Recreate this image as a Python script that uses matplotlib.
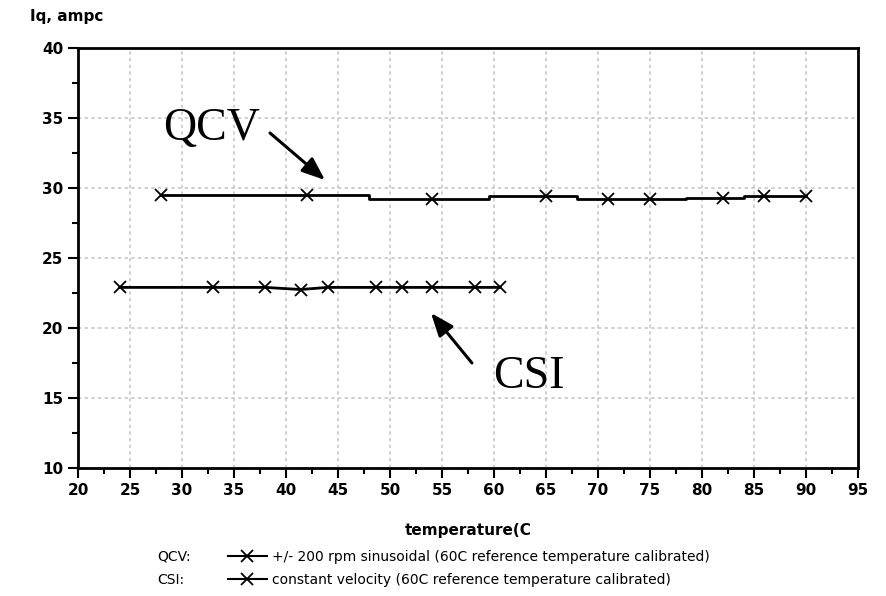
import matplotlib
matplotlib.use("Agg")
import matplotlib.pyplot as plt
from matplotlib.lines import Line2D
from matplotlib.ticker import MultipleLocator

# Data
qcv_temp = [28, 42, 54, 65, 71, 75, 82, 86, 90]
qcv_iq = [29.5, 29.5, 29.2, 29.4, 29.2, 29.2, 29.3, 29.4, 29.4]
csi_temp = [24, 33, 38, 41.4, 44, 48.7, 51.2, 54, 58.2, 60.6]
csi_iq = [22.9, 22.9, 22.9, 22.75, 22.9, 22.9, 22.9, 22.9, 22.9, 22.9]

x_ticks = list(range(20, 96, 5))
y_ticks = list(range(10, 41, 5))

fig = plt.figure(figsize=(8.86, 5.96), dpi=100)
ax = fig.add_axes([78/886, 1-468/596, 780/886, 420/596])

ax.plot(qcv_temp, qcv_iq, color='black', lw=2, drawstyle='steps-mid')
ax.plot(qcv_temp, qcv_iq, ls='none', marker='x', ms=9, mew=1.3, color='black')
ax.plot(csi_temp, csi_iq, color='black', lw=2)
ax.plot(csi_temp, csi_iq, ls='none', marker='x', ms=9, mew=1.3, color='black')

ax.set_xlim(20, 95)
ax.set_ylim(10, 40)
ax.set_xticks(x_ticks)
ax.set_yticks(y_ticks)
ax.xaxis.set_minor_locator(MultipleLocator(2.5))
ax.yaxis.set_minor_locator(MultipleLocator(2.5))
ax.grid(True, which='major', color='#c8c8c8', ls=(0, (2, 2)), lw=1.2)
ax.tick_params(which='major', direction='out', length=7, width=1.5, labelsize=11)
ax.tick_params(which='minor', direction='out', length=4, width=1.5)
ax.tick_params(top=False, right=False, which='both')
for s in ax.spines.values():
    s.set_linewidth(2)
for lab in ax.get_xticklabels() + ax.get_yticklabels():
    lab.set_fontweight('bold')

# Annotations
arrow = dict(arrowstyle='-|>,head_length=1.4,head_width=0.55',
             color='black', lw=2.2, shrinkA=0, shrinkB=0)
ax.annotate('', xy=(43.75, 30.57), xytext=(38.46, 33.93), arrowprops=arrow)
ax.text(32.8, 34.2, 'QCV', fontsize=33, family='Liberation Serif', ha='center', va='center')
ax.annotate('', xy=(53.94, 21.07), xytext=(57.88, 17.5), arrowprops=arrow)
ax.text(63.37, 16.5, 'CSI', fontsize=33, family='Liberation Serif', ha='center', va='center')

fig.text(30/886, 1-17/596, 'Iq, ampc', fontsize=11, fontweight='bold', va='center', ha='left')
ax.set_xlabel('temperature(C', fontsize=11, fontweight='bold', labelpad=18)

# Legend
fig.text(157/886, 1-557/596, 'QCV:', fontsize=10, va='center', ha='left')
fig.text(157/886, 1-580/596, 'CSI:', fontsize=10, va='center', ha='left')
handles = [Line2D([], [], color='black', lw=1.5, marker='x', ms=9, mew=1.3),
           Line2D([], [], color='black', lw=1.5, marker='x', ms=9, mew=1.3)]
labels = ['+/- 200 rpm sinusoidal (60C reference temperature calibrated)',
          'constant velocity (60C reference temperature calibrated)']
fig.legend(handles, labels, loc='upper left', bbox_to_anchor=(228/886, 1-550/596),
           frameon=False, fontsize=10, handlelength=2.8, handletextpad=0.4,
           labelspacing=0.65, borderpad=0, borderaxespad=0)

fig.savefig('out.png', dpi=100)
